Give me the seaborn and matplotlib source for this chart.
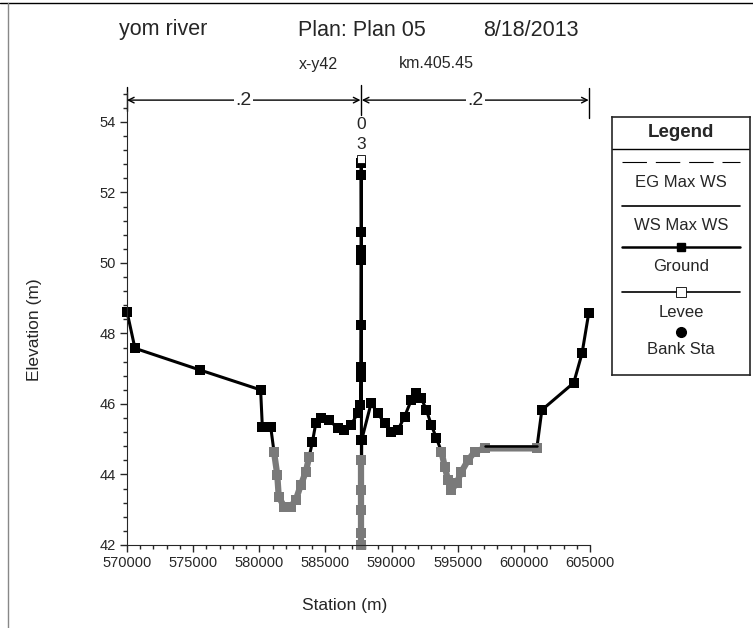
import numpy as np
import pandas as pd
import matplotlib.pyplot as plt
import seaborn as sns
from matplotlib.lines import Line2D
from matplotlib.ticker import MultipleLocator, FormatStrFormatter

sns.set_style("ticks")
plt.rcParams['font.family'] = ['Liberation Sans', 'DejaVu Sans']

# Ground profile (station m, elevation m)
station = [570000, 570600, 575550, 580100, 580230, 580860, 581110, 581360, 581470, 581870,
           582380, 582760, 583140, 583520, 583770, 584020, 584270, 584650, 585280, 585920,
           586420, 586930, 587440, 587650,
           587680, 587690, 587700, 587700, 587710, 587720, 587720, 587720, 587720, 587720,
           587720, 587720, 587720, 587720, 587740,
           588450, 588960, 589470, 589970, 590480, 590980, 591490, 591870, 592250, 592630,
           593010, 593390, 593770, 594020, 594270, 594530, 594910, 595280, 595790, 596290,
           597050, 600980, 601360, 603770, 604400, 604900]
elevation = [48.62, 47.58, 46.96, 46.40, 45.36, 45.36, 44.65, 43.99, 43.37, 43.09,
             43.09, 43.28, 43.70, 44.08, 44.50, 44.93, 45.45, 45.60, 45.55, 45.31,
             45.26, 45.40, 45.74, 45.97,
             47.06, 48.24, 50.37, 52.50, 52.84, 50.89, 50.08, 46.77, 44.98, 44.41,
             43.56, 43.00, 42.33, 42.00, 44.98,
             46.02, 45.74, 45.45, 45.20, 45.26, 45.64, 46.11, 46.30, 46.16, 45.83,
             45.40, 45.03, 44.65, 44.22, 43.84, 43.56, 43.75, 44.08, 44.41, 44.65,
             44.74, 44.74, 45.83, 46.60, 47.44, 48.57]

ws_elev = 44.8
ws_station = [597050, 600980]
bank_sta = [587650, 587750]
n_labels = [".2", "0\n3", ".2"]
levee_sta, levee_elev = 587710, 52.95

ground = pd.DataFrame({"station": station, "elev": elevation})
wet = ground["elev"] <= ws_elev
ground["run"] = (wet != wet.shift()).cumsum()

fig = plt.figure(figsize=(7.53, 6.28), dpi=100)
ax = fig.add_axes([127 / 753, 1 - 545 / 628, (590 - 127) / 753, (545 - 92) / 628])

sns.lineplot(data=ground, x="station", y="elev", sort=False, estimator=None,
             color="black", lw=2.2, marker="s", markersize=7, markeredgewidth=0, ax=ax)
sns.lineplot(data=ground[wet], x="station", y="elev", units="run", sort=False,
             estimator=None, color="#7a7a7a", lw=4.5, marker="s", markersize=7.5,
             markeredgewidth=0, ax=ax)
sns.lineplot(x=ws_station, y=[ws_elev] * len(ws_station), color="black", lw=1.8, ax=ax)
ax.plot([levee_sta], [levee_elev], marker="s", ms=6, mfc="white", mec="black",
        mew=0.6, ls="none", zorder=5)
for ln in ax.lines:
    ln.set_clip_on(False)

ax.set_xlim(570000, 605000)
ax.set_ylim(42, 54.85)
ax.xaxis.set_major_locator(MultipleLocator(5000))
ax.xaxis.set_minor_locator(MultipleLocator(1000))
ax.yaxis.set_major_locator(MultipleLocator(2))
ax.yaxis.set_minor_locator(MultipleLocator(0.4))
ax.xaxis.set_major_formatter(FormatStrFormatter('%d'))
ax.yaxis.set_major_formatter(FormatStrFormatter('%d'))
ax.tick_params(which='major', direction='out', length=5, width=1, labelsize=10.5, pad=3)
ax.tick_params(which='minor', direction='out', length=3, width=1)
sns.despine(ax=ax)
ax.set_xlabel("Station (m)", fontsize=12.5)
ax.set_ylabel("Elevation (m)", fontsize=12.5)
ax.xaxis.set_label_coords((345 - 127) / 463, -(598 - 545) / 453)
ax.yaxis.set_label_coords(-(127 - 42) / 463, (545 - 330) / 453)

# Manning's n dimension lines above the section
y_dim = 54.62
edges = [station[0], bank_sta[0], bank_sta[1], station[-1]]
for (a, b, lab) in [(edges[0], edges[1], n_labels[0]), (edges[2], edges[3], n_labels[2])]:
    ax.annotate('', xy=(a, y_dim), xytext=(b, y_dim), annotation_clip=False,
                arrowprops=dict(arrowstyle='<->', lw=1, color='black', shrinkA=0, shrinkB=0))
    ax.text((a + b) / 2, y_dim, lab, ha='center', va='center', fontsize=14,
            bbox=dict(fc='white', ec='none', pad=1), clip_on=False)
for xv, y0, y1 in [(edges[0], 54.3, 55.0), ((edges[1] + edges[2]) / 2, 54.2, 55.05),
                   (edges[3], 54.11, 54.97)]:
    ax.plot([xv, xv], [y0, y1], color='black', lw=1, clip_on=False)
ax.text((edges[1] + edges[2]) / 2, 53.64, n_labels[1], ha='center', va='center',
        fontsize=12.5, linespacing=1.45)

fig.text(163 / 753, 1 - 30 / 628, "yom river", ha='center', va='center', fontsize=15.5)
fig.text(362 / 753, 1 - 30 / 628, "Plan: Plan 05", ha='center', va='center', fontsize=15.5)
fig.text(531 / 753, 1 - 30 / 628, "8/18/2013", ha='center', va='center', fontsize=15.5)
fig.text(318 / 753, 1 - 64 / 628, "x-y42", ha='center', va='center', fontsize=11.5)
fig.text(436 / 753, 1 - 64 / 628, "km.405.45", ha='center', va='center', fontsize=11.5)

# Legend panel
lg = fig.add_axes([612 / 753, 1 - 375 / 628, (750 - 612) / 753, (375 - 117) / 628])
lg.set_xlim(0, 1)
lg.set_ylim(0, 1)
lg.set_xticks([])
lg.set_yticks([])
for s in lg.spines.values():
    s.set_linewidth(1.2)
lg.text(0.5, 0.938, "Legend", ha='center', va='center', fontsize=13.5, fontweight='bold')
lg.plot([0, 1], [0.876, 0.876], color='black', lw=1)
lg.plot([0.07, 0.93], [0.826, 0.826], color='black', lw=0.8, ls=(0, (22, 8)))
lg.text(0.5, 0.748, "EG Max WS", ha='center', va='center', fontsize=12)
lg.plot([0.07, 0.93], [0.655, 0.655], color='black', lw=1.2)
lg.text(0.5, 0.581, "WS Max WS", ha='center', va='center', fontsize=12)
lg.plot([0.07, 0.93], [0.496, 0.496], color='black', lw=1.8)
lg.plot([0.5], [0.496], marker='s', ms=6, color='black')
lg.text(0.5, 0.422, "Ground", ha='center', va='center', fontsize=12)
lg.plot([0.07, 0.93], [0.322, 0.322], color='black', lw=1.2)
lg.plot([0.5], [0.322], marker='s', ms=7, mfc='white', mec='black', mew=0.6)
lg.text(0.5, 0.244, "Levee", ha='center', va='center', fontsize=12)
lg.plot([0.5], [0.167], marker='o', ms=7, color='black')
lg.text(0.5, 0.097, "Bank Sta", ha='center', va='center', fontsize=12)

# scan edge lines
fig.add_artist(Line2D([0, 1], [0.996, 0.996], color='black', lw=1))
fig.add_artist(Line2D([0.011, 0.011], [0.0, 0.996], color='#888888', lw=1))

fig.savefig("out.png", dpi=100)
